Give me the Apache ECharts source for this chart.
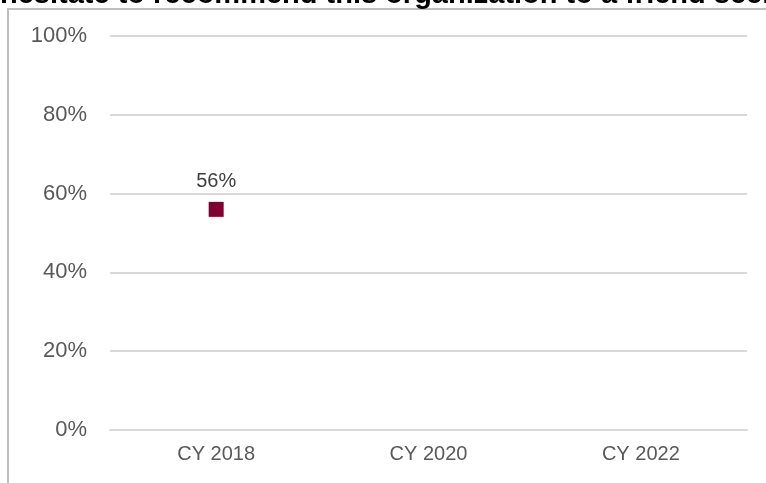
<!DOCTYPE html>
<html>
<head>
<meta charset="utf-8">
<script src="https://cdn.jsdelivr.net/npm/echarts@6/dist/echarts.min.js"></script>
<style>
html, body { margin: 0; padding: 0; background: #fff; }
#chart { width: 766px; height: 483px; }
</style>
</head>
<body>
<div id="chart"></div>
<script>
const titleText = 'hesitate to recommend this organization to a friend seeking care';
const categories = ['CY 2018', 'CY 2020', 'CY 2022'];
const values = [56, null, null];
const yTicks = { min: 0, max: 100, interval: 20 };

const myChart = echarts.init(document.getElementById('chart'));

const option = {
    animation: false,
    textStyle: { fontFamily: 'Liberation Sans, Arial, sans-serif' },
    graphic: [
        {
            type: 'rect',
            shape: { x: 8, y: 9, width: 800, height: 520 },
            style: { fill: 'none', stroke: '#bfbfbf', lineWidth: 2 },
            silent: true
        },
        {
            // title is clipped at the top of the picture
            type: 'text',
            x: 0,
            y: 9,
            style: {
                text: titleText,
                font: 'bold 29px "Liberation Sans", Arial, sans-serif',
                fill: '#000',
                verticalAlign: 'bottom'
            },
            silent: true
        }
    ],
    grid: { left: 110, right: 19, top: 36, bottom: 53 },
    xAxis: {
        type: 'category',
        data: categories,
        axisLine: { show: true, lineStyle: { color: '#d9d9d9', width: 2 } },
        axisTick: { show: false },
        axisLabel: { color: '#595959', fontSize: 20, margin: 14 }
    },
    yAxis: {
        type: 'value',
        min: yTicks.min,
        max: yTicks.max,
        interval: yTicks.interval,
        axisLine: { show: false },
        axisTick: { show: false },
        splitLine: { lineStyle: { color: '#d9d9d9', width: 2 } },
        axisLabel: { color: '#595959', fontSize: 22, margin: 23, formatter: '{value}%' }
    },
    series: [
        {
            type: 'scatter',
            data: values,
            symbol: 'rect',
            symbolSize: 15,
            itemStyle: { color: '#800030', opacity: 1 },
            label: {
                show: true,
                position: 'top',
                distance: 10,
                color: '#404040',
                fontSize: 20,
                formatter: p => p.value + '%'
            }
        }
    ]
};

myChart.setOption(option);
window.addEventListener('resize', () => myChart.resize());
</script>
</body>
</html>
